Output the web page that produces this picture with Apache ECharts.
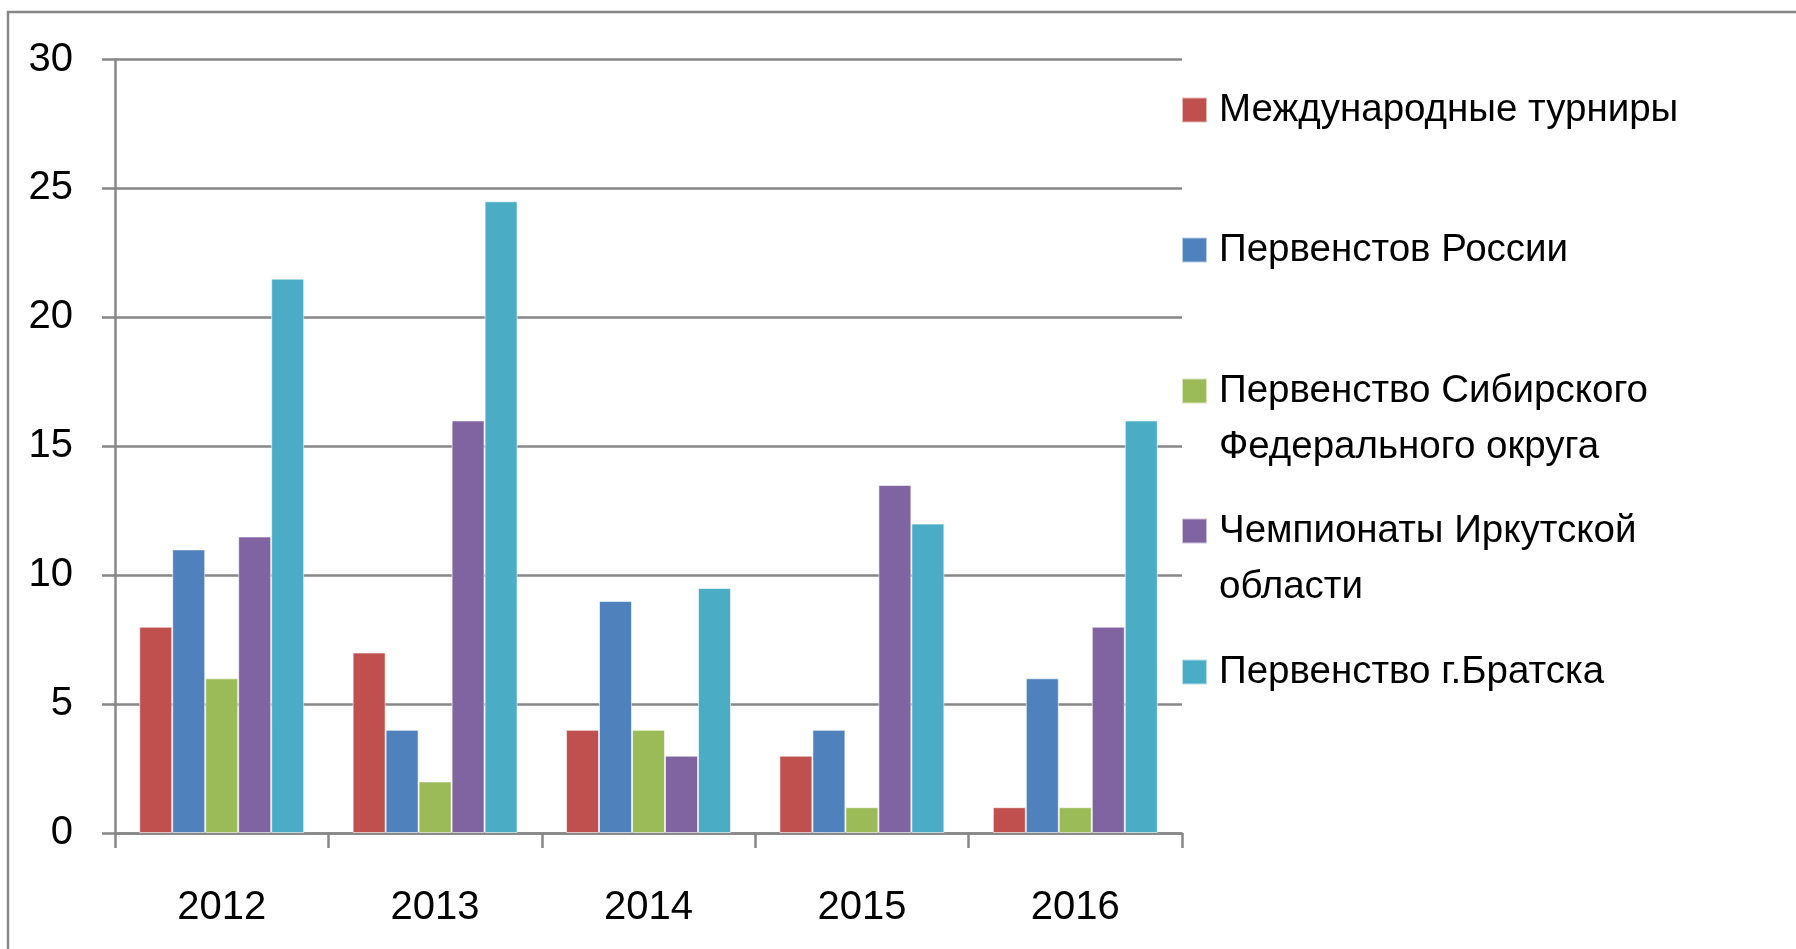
<!DOCTYPE html>
<html>
<head>
<meta charset="utf-8">
<script src="https://cdn.jsdelivr.net/npm/echarts@6/dist/echarts.min.js"></script>
<style>
html,body{margin:0;padding:0;background:#fff;}
#c{width:1796px;height:949px;}
</style>
</head>
<body>
<div id="c"></div>
<script>
const categories = ['2012', '2013', '2014', '2015', '2016'];
const seriesNames = [
  'Международные турниры',
  'Первенстов России',
  'Первенство Сибирского\nФедерального округа',
  'Чемпионаты Иркутской\nобласти',
  'Первенство г.Братска'
];
const intlTournaments = [8, 7, 4, 3, 1];
const russiaChamp = [11, 4, 9, 4, 6];
const siberiaChamp = [6, 2, 4, 1, 1];
const irkutskChamp = [11.5, 16, 3, 13.5, 8];
const bratskChamp = [21.5, 24.5, 9.5, 12, 16];
const yTicks = [0, 5, 10, 15, 20, 25, 30];

const colors = ['#C0504D', '#4F81BD', '#9BBB59', '#8064A2', '#4BACC6'];
const values = [intlTournaments, russiaChamp, siberiaChamp, irkutskChamp, bratskChamp];
const legendCenters = [110, 250, 391, 531, 672];
const LH = 56;
const FONT = 'Liberation Sans';
const gray = '#878787';

const chart = echarts.init(document.getElementById('c'), null, {renderer: 'canvas'});

const legends = seriesNames.map((name, i) => {
  const twoLine = name.indexOf('\n') >= 0;
  const h = twoLine ? LH * 3 : LH;
  return {
    data: [name],
    orient: 'vertical',
    left: 1181,
    top: legendCenters[i] - h / 2,
    padding: 0,
    itemWidth: 25,
    itemHeight: 25,
    selectedMode: false,
    icon: 'rect',
    formatter: n => (n.indexOf('\n') >= 0 ? ' \n' + n : n),
    textStyle: {
      fontFamily: FONT,
      fontSize: 38.5,
      color: '#000',
      lineHeight: LH,
      padding: [0, 0, 0, 7]
    }
  };
});

chart.setOption({
  animation: false,
  backgroundColor: '#fff',
  grid: {left: 115, right: 1796 - 1182, top: 59.5, bottom: 949 - 833, containLabel: false},
  legend: legends,
  xAxis: {
    type: 'category',
    data: categories,
    boundaryGap: true,
    axisLine: {show: true, lineStyle: {color: gray, width: 2.5}},
    axisTick: {show: true, length: 15, lineStyle: {color: gray, width: 2.5}},
    axisLabel: {fontFamily: FONT, fontSize: 40, color: '#000', margin: 55}
  },
  yAxis: {
    type: 'value',
    min: 0,
    max: 30,
    interval: 5,
    axisLine: {show: true, lineStyle: {color: gray, width: 2.5}},
    axisTick: {show: true, length: 13, lineStyle: {color: gray, width: 2.5}},
    splitLine: {show: true, lineStyle: {color: gray, width: 2.5}},
    axisLabel: {
      fontFamily: FONT, fontSize: 40, color: '#000', margin: 42,
      formatter: v => (yTicks.indexOf(v) >= 0 ? String(v) : '')
    }
  },
  graphic: [{
    type: 'rect',
    silent: true,
    z: -1,
    shape: {x: 8, y: 12, width: 2000, height: 1200},
    style: {fill: 'none', stroke: gray, lineWidth: 2.5}
  }],
  series: seriesNames.map((name, i) => ({
    name: name,
    type: 'bar',
    data: values[i],
    barGap: '0%',
    barCategoryGap: '22.7%',
    itemStyle: {color: colors[i], borderColor: 'rgba(255,255,255,0.6)', borderWidth: 1}
  }))
});
</script>
</body>
</html>
